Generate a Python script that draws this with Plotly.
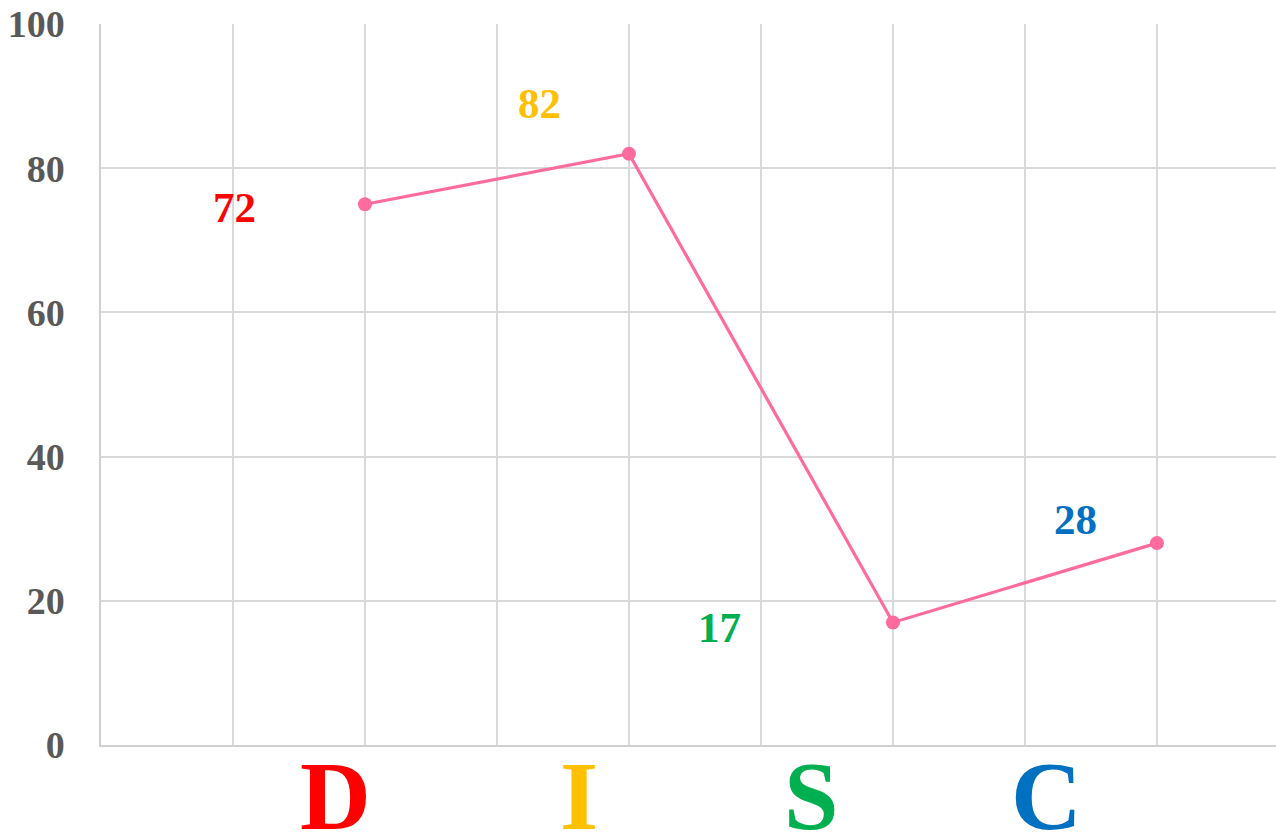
import plotly.graph_objects as go

categories = ["D", "I", "S", "C"]
point_values = [75, 82, 17, 28]
label_texts = ["72", "82", "17", "28"]
colors = ["#FF0000", "#FFC000", "#00B050", "#0070C0"]
y_ticks = [0, 20, 40, 60, 80, 100]

# styling / placement (pixel offsets)
label_dx = [-130, -89, -173, -81]
label_dy = [3, -50, 5, -24]
cat_dx = [-29, -50, -81, -110]

xpos = list(range(1, len(categories) + 1))
font_family = "Liberation Serif, Times New Roman, serif"

fig = go.Figure()
fig.add_trace(go.Scatter(
    x=xpos, y=point_values, mode="lines+markers",
    line=dict(color="#FF6B9D", width=3.2),
    marker=dict(color="#FF6B9D", size=14),
    hoverinfo="skip", showlegend=False, cliponaxis=False,
))

annotations = []
for i, (xv, yv) in enumerate(zip(xpos, point_values)):
    annotations.append(dict(
        x=xv, y=yv, xref="x", yref="y", text="<b>%s</b>" % label_texts[i],
        showarrow=False, xshift=label_dx[i], yshift=-label_dy[i],
        font=dict(family=font_family, size=43, color=colors[i]),
        xanchor="center", yanchor="middle",
    ))
    annotations.append(dict(
        x=xv, y=0, xref="x", yref="paper", text="<b>%s</b>" % categories[i],
        showarrow=False, xshift=cat_dx[i], yshift=5,
        font=dict(family=font_family, size=98, color=colors[i]),
        xanchor="center", yanchor="top",
    ))

fig.update_layout(
    width=1276, height=832,
    margin=dict(l=101, r=0, t=24, b=87, autoexpand=False),
    paper_bgcolor="white", plot_bgcolor="white",
    annotations=annotations,
    xaxis=dict(
        range=[0, 4.451], tickvals=[i * 0.5 for i in range(0, 9)],
        showticklabels=False, showgrid=True, gridcolor="#D9D9D9", gridwidth=1.5,
        zeroline=False, showline=True, linecolor="#D0D0D0", linewidth=1.5,
        fixedrange=True, automargin=False,
    ),
    yaxis=dict(
        range=[0, 100], tickvals=y_ticks, ticktext=["<b>%d</b>" % v for v in y_ticks],
        showgrid=True, gridcolor="#D9D9D9", gridwidth=1.5,
        zeroline=False, showline=True, linecolor="#D0D0D0", linewidth=1.5,
        tickfont=dict(family=font_family, size=38, color="#595959"),
        ticklabelstandoff=27, ticklabeloverflow="allow", fixedrange=True,
        automargin=False,
    ),
)

fig.write_html(
    "out.html",
    config={"displayModeBar": False},
    post_script="document.body.style.margin='0';document.body.style.overflow='hidden';",
)
